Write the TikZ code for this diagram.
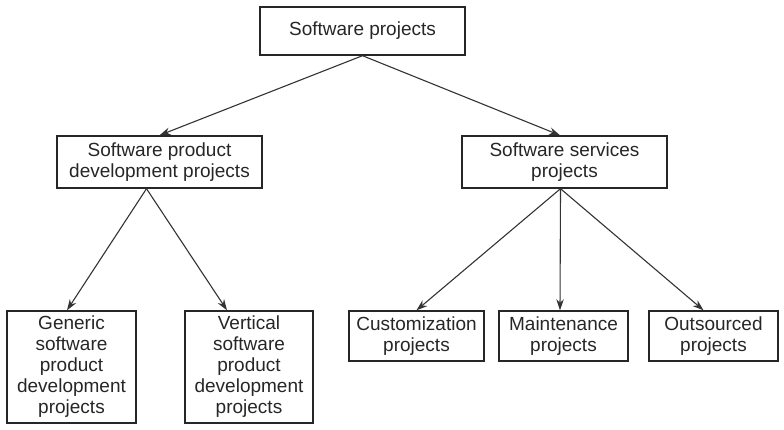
\documentclass[tikz,border=0pt]{standalone}
\usepackage{fontspec}
\setmainfont{Liberation Sans}
\usetikzlibrary{arrows.meta}
\begin{document}
\begin{tikzpicture}[x=1pt,y=-1pt,
 box/.style={draw=black!85, line width=1.4pt, inner sep=0pt, align=center, font=\fontsize{19}{21}\selectfont, text=black!85},
 arr/.style={draw=black!80, line width=1.1pt, -{Stealth[length=11pt,width=7.5pt]}}]
\useasboundingbox (0,0) rectangle (784,430);
\node[box, minimum width=205pt, minimum height=48pt] (top) at (362.5,31) {Software projects};
\node[box, minimum width=205pt, minimum height=52pt] (lmid) at (159.5,162) {Software product\\development projects};
\node[box, minimum width=205pt, minimum height=52pt] (rmid) at (564.5,162) {Software services\\projects};
\node[box, minimum width=129pt, minimum height=112pt] (gen) at (71.5,367) {Generic\\software\\product\\development\\projects};
\node[box, minimum width=128pt, minimum height=112pt] (vert) at (249,367) {Vertical\\software\\product\\development\\projects};
\node[box, minimum width=135pt, minimum height=50pt] (cust) at (416.5,336) {Customization\\projects};
\node[box, minimum width=129pt, minimum height=50pt] (maint) at (563.5,336) {Maintenance\\projects};
\node[box, minimum width=129pt, minimum height=50pt] (outs) at (713.5,336) {Outsourced\\projects};
\draw[arr] (top.south) -- (lmid.north);
\draw[arr] (top.south) -- ([xshift=-4.5pt]rmid.north);
\draw[arr] ([xshift=-13pt]lmid.south) -- ([xshift=-4.5pt]gen.north);
\draw[arr] ([xshift=-13pt]lmid.south) -- ([xshift=-22pt]vert.north);
\draw[arr] ([xshift=-4pt]rmid.south) -- (cust.north);
\draw[arr] ([xshift=-4pt]rmid.south) -- ([xshift=-3.5pt]maint.north);
\draw[arr] ([xshift=-4pt]rmid.south) -- ([xshift=-10pt]outs.north);
\end{tikzpicture}
\end{document}
